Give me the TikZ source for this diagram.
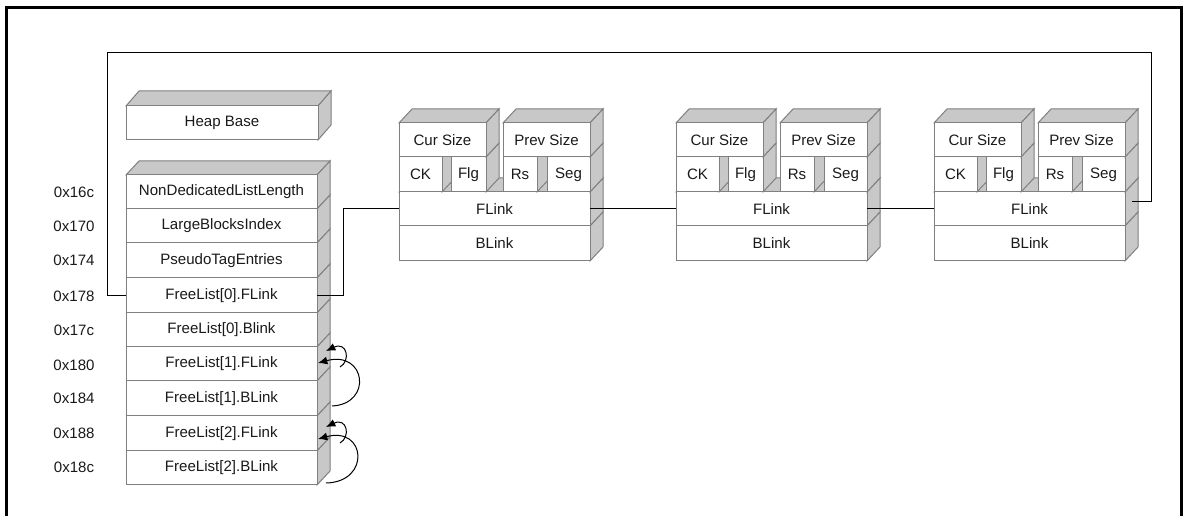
\documentclass[tikz,border=0pt]{standalone}
\usepackage{fontspec}
\setmainfont{Liberation Sans}
\usetikzlibrary{arrows.meta}
\definecolor{edgegray}{HTML}{808080}
\definecolor{sidegray}{HTML}{C8C8C8}
\definecolor{txt}{HTML}{1A1A1A}
\def\dX{13}
\def\dY{13}
\tikzset{
  cell/.style={draw=edgegray, fill=white, line width=0.75pt, inner sep=0pt, outer sep=0pt,
    font=\fontsize{11.3}{13}\selectfont, text=txt},
  face/.style={draw=edgegray, fill=sidegray, line width=0.75pt},
  link/.style={draw=black, line width=0.75pt},
  frame/.style={draw=black, line width=2.25pt},
  addr/.style={font=\fontsize{11.3}{13}\selectfont, inner sep=0pt, text=txt},
  loopline/.style={link, -{Latex[length=7pt,width=6pt]}}
}
% name, x1, y1, x2, y2, text  (pixel coordinates, y downwards)
\newcommand\boxcell[6]{%
  \path[face] ({#4},{#3}) -- ({(#4)+\dX},{(#3)-\dY}) -- ({(#4)+\dX},{(#5)-\dY}) -- ({#4},{#5}) -- cycle;
  \pgfmathsetmacro\cw{((#4)-(#2))*0.75}%
  \pgfmathsetmacro\ch{((#5)-(#3))*0.75}%
  \node[cell, minimum width=\cw pt, minimum height=\ch pt] (#1) at ({((#2)+(#4))/2},{((#3)+(#5))/2}) {#6};
}
% x1, y, x2 : top face
\newcommand\topslab[3]{%
  \path[face] ({#1},{#2}) -- ({(#1)+\dX},{(#2)-\dY}) -- ({(#3)+\dX},{(#2)-\dY}) -- ({#3},{#2}) -- cycle;
}
\newcommand\chunk[2]{%
  \topslab{#2}{192}{#2+191}
  \boxcell{#1fl}{#2}{192}{#2+191}{226}{FLink}
  \boxcell{#1bl}{#2}{226}{#2+191}{261}{BLink}
  \boxcell{#1ck}{#2}{157}{#2+43}{192}{CK}
  \boxcell{#1fg}{#2+52}{157}{#2+87}{192}{Flg}
  \boxcell{#1rs}{#2+104}{157}{#2+138}{192}{Rs}
  \boxcell{#1sg}{#2+148}{157}{#2+191}{192}{Seg}
  \topslab{#2}{123}{#2+87}
  \boxcell{#1cs}{#2}{123}{#2+87}{157}{Cur Size}
  \topslab{#2+104}{123}{#2+191}
  \boxcell{#1ps}{#2+104}{123}{#2+191}{157}{Prev Size}
}
\begin{document}
\begin{tikzpicture}[x=0.75pt,y=-0.75pt]
\useasboundingbox (0,0) rectangle (1183,516);
\fill[white] (0,0) rectangle (1183,516);
\draw[frame] (6,520) -- (6,7.5) -- (1181,7.5) -- (1181,520);

% Heap base
\def\dX{13}\def\dY{15}
\topslab{126}{106}{318}
\boxcell{hb}{126}{106}{318}{140}{Heap Base}

% Heap list
\def\dX{13}\def\dY{14}
\topslab{126}{175}{317}
\boxcell{l0}{126}{175}{317}{209}{NonDedicatedListLength}
\boxcell{l1}{126}{209}{317}{243}{LargeBlocksIndex}
\boxcell{l2}{126}{243}{317}{278}{PseudoTagEntries}
\boxcell{l3}{126}{278}{317}{313}{FreeList[0].FLink}
\boxcell{l4}{126}{313}{317}{347}{FreeList[0].Blink}
\boxcell{l5}{126}{347}{317}{381}{FreeList[1].FLink}
\boxcell{l6}{126}{381}{317}{416}{FreeList[1].BLink}
\boxcell{l7}{126}{416}{317}{451}{FreeList[2].FLink}
\boxcell{l8}{126}{451}{317}{485}{FreeList[2].BLink}

% addresses
\node[addr] (a0) at (74,192) {0x16c};
\node[addr] (a1) at (74,226) {0x170};
\node[addr] (a2) at (74,260) {0x174};
\node[addr] (a3) at (74,296) {0x178};
\node[addr] (a4) at (74,330) {0x17c};
\node[addr] (a5) at (74,365) {0x180};
\node[addr] (a6) at (74,398) {0x184};
\node[addr] (a7) at (74,433) {0x188};
\node[addr] (a8) at (74,467) {0x18c};

% chunks
\def\dX{13}\def\dY{14}
\chunk{c1}{399}
\chunk{c2}{676}
\chunk{c3}{934}

% links
\draw[link] (l3.east) -- ++(26,0) |- (c1fl.west);
\draw[link] (c1fl.east) -- (c2fl.west);
\draw[link] (c2fl.east) -- (c3fl.west);
\coordinate (c3out) at (1132,202);
\coordinate (ret1) at (1151,53);
\coordinate (ret2) at (107,53);
\draw[link] (c3out) -- (c3out -| ret1) -- (ret1) -- (ret2) |- (l3.west);

% self loops
\coordinate (a1s) at (340,367);
\coordinate (a1e) at (326,351);
\draw[loopline] (a1s) .. controls (351,361) and (347,341) .. (a1e);
\coordinate (b1s) at (332,406);
\coordinate (b1e) at (318,363);
\draw[loopline] (b1s) .. controls (373,404) and (366,350) .. (b1e);
\coordinate (a2s) at (340,443);
\coordinate (a2e) at (326,427);
\draw[loopline] (a2s) .. controls (351,437) and (347,417) .. (a2e);
\coordinate (b2s) at (326,483);
\coordinate (b2e) at (318,439);
\draw[loopline] (b2s) .. controls (371,482) and (366,426) .. (b2e);
\end{tikzpicture}
\end{document}
